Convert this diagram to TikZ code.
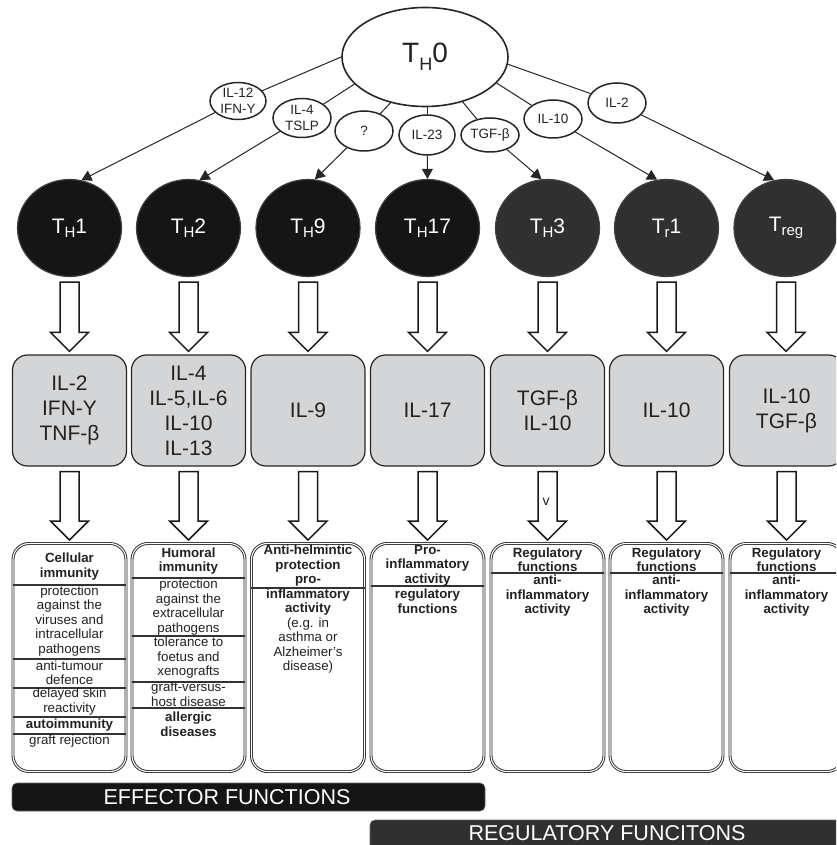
\documentclass[tikz,border=0pt]{standalone}
\usepackage{fontspec}
\setmainfont{Liberation Sans}
\usetikzlibrary{shapes.geometric,arrows.meta,calc}
\definecolor{cdark}{HTML}{151515}
\definecolor{cmid}{HTML}{303030}
\definecolor{cgray}{HTML}{D4D5D7}
\definecolor{ctext}{HTML}{222222}
\newcommand{\cellsub}[1]{\raisebox{-4pt}{\fontsize{15}{15}\selectfont #1}}
\newcommand{\fatarrow}[2]{\draw[fat] let \p1=(#1.south), \p2=(#2.north) in
  ({\x1-9.5pt},{\y1-5pt}) -- ({\x1-9.5pt},{\y2+22pt}) -- ({\x1-19pt},{\y2+22pt}) --
  ({\x1},{\y2+3pt}) -- ({\x1+19pt},{\y2+22pt}) -- ({\x1+9.5pt},{\y2+22pt}) --
  ({\x1+9.5pt},{\y1-5pt}) -- cycle;}
\begin{document}
\begin{tikzpicture}[x=1pt,y=-1pt,
  every node/.style={text=ctext},
  cell/.style={ellipse, minimum width=104pt, minimum height=97pt, inner sep=0pt,
    draw=black!75, line width=1.2pt, text=white, font=\fontsize{21}{21}\selectfont},
  darkcell/.style={cell, fill=cdark},
  midcell/.style={cell, fill=cmid},
  root/.style={ellipse, minimum width=166pt, minimum height=99pt, inner sep=0pt,
    draw=black!85, line width=1.6pt, font=\fontsize{28}{28}\selectfont},
  lab/.style={ellipse, draw=black!85, line width=1.5pt, inner sep=0pt, fill=white,
    minimum width=58pt, minimum height=38pt, align=center, font=\fontsize{13.5}{16}\selectfont},
  gbox/.style={rectangle, rounded corners=15pt, draw=black!85, line width=1.2pt, fill=cgray,
    minimum width=114pt, minimum height=111pt, align=center, font=\fontsize{21}{25}\selectfont},
  wbox/.style={rectangle, rounded corners=16pt, draw=black!85, line width=0.9pt,
    double=white, double distance=1.1pt, minimum width=113pt, minimum height=228pt},
  sect/.style={align=center, inner sep=0pt, font=\fontsize{13.3}{14.5}\selectfont},
  bsect/.style={align=center, inner sep=0pt, font=\fontsize{13.3}{14.5}\selectfont\bfseries},
  divider/.style={draw=black!80, line width=1.3pt},
  fat/.style={draw=black!90, line width=1.5pt, fill=white, line join=miter},
  conn/.style={draw=black!85, line width=1pt},
  tip/.style={conn, -{Triangle[length=10pt,width=11pt]}},
  bar/.style={rectangle, rounded corners=5pt, draw=black!60, line width=0.6pt, inner sep=0pt},
  bartext/.style={text=white, inner sep=0pt, font=\fontsize{21.5}{21.5}\selectfont}
]
\clip (0,0) rectangle (836,845);
\fill[white] (0,0) rectangle (836,845);

% root
\node[root] (th0) at (425,57) {T\raisebox{-8pt}{\fontsize{18}{18}\selectfont H}0};

% cytokine labels
\node[lab, minimum width=56pt, minimum height=37pt] (l1) at (238,101) {IL-12\\IFN-Y};
\node[lab, minimum height=39pt] (l2) at (302,118) {IL-4\\TSLP};
\node[lab, minimum height=40pt] (l3) at (364,131) {?};
\node[lab, minimum width=56pt, minimum height=40pt] (l4) at (427,135) {IL-23};
\node[lab, minimum height=34pt] (l5) at (490,135) {TGF-β};
\node[lab, minimum height=38pt] (l6) at (553,119) {IL-10};
\node[lab, minimum height=40pt] (l7) at (617,103) {IL-2};

% cells
\node[darkcell] (th1)  at (69.5,228)  {T\cellsub{H}1};
\node[darkcell] (th2)  at (188.5,228) {T\cellsub{H}2};
\node[darkcell] (th9)  at (308,228)   {T\cellsub{H}9};
\node[darkcell] (th17) at (427.5,228) {T\cellsub{H}17};
\node[midcell]  (th3)  at (547.5,228) {T\cellsub{H}3};
\node[midcell]  (tr1)  at (666.5,228) {T\cellsub{r}1};
\node[midcell]  (treg) at (786,228)   {T\cellsub{reg}};

% connectors root -> labels -> cells
\draw[conn] (th0.180) -- (l1);
\draw[conn] (th0.201) -- (l2);
\draw[conn] (th0.233) -- (l3);
\draw[conn] (l4 |- th0.south) -- (l4);
\draw[conn] (th0.310) -- (l5);
\draw[conn] (th0.340) -- (l6);
\draw[conn] (th0.355) -- (l7);
\draw[tip] (l1) -- (th1.76);
\draw[tip] (l2) -- (th2.77);
\draw[tip] (l3) -- (th9.82);
\draw[tip] (l4) -- (th17.north);
\draw[tip] (l5) -- (th3.97);
\draw[tip] (l6) -- (tr1.101);
\draw[tip] (l7) -- (treg.104);

% cytokine boxes
\node[gbox] (g1) at (69.5,410.5)  {IL-2\\IFN-Y\\TNF-β};
\node[gbox] (g2) at (188.5,410.5) {IL-4\\IL-5,IL-6\\IL-10\\IL-13};
\node[gbox] (g3) at (308,410.5)   {IL-9};
\node[gbox] (g4) at (427.5,410.5) {IL-17};
\node[gbox] (g5) at (547.5,410.5) {TGF-β\\IL-10};
\node[gbox] (g6) at (666.5,410.5) {IL-10};
\node[gbox] (g7) at (786.5,410.5) {IL-10\\TGF-β};

% function boxes
\node[wbox] (w1) at (69.5,657.5)  {};
\node[wbox] (w2) at (188.5,657.5) {};
\node[wbox] (w3) at (308,657.5)   {};
\node[wbox] (w4) at (427.5,657.5) {};
\node[wbox] (w5) at (547.5,657.5) {};
\node[wbox] (w6) at (666.5,657.5) {};
\node[wbox] (w7) at (786.5,657.5) {};

% fat arrows
\fatarrow{th1}{g1}
\fatarrow{th2}{g2}
\fatarrow{th9}{g3}
\fatarrow{th17}{g4}
\fatarrow{th3}{g5}
\fatarrow{tr1}{g6}
\fatarrow{treg}{g7}
\fatarrow{g1}{w1}
\fatarrow{g2}{w2}
\fatarrow{g3}{w3}
\fatarrow{g4}{w4}
\fatarrow{g5}{w5}
\fatarrow{g6}{w6}
\fatarrow{g7}{w7}
\node[font=\fontsize{14}{14}\selectfont, inner sep=0pt] (vmark) at (546,502) {v};

% box 1
\node[bsect] (s11) at (69.5,566.5) {Cellular\\immunity};
\draw[divider] (w1.west |- 0,585) -- (w1.east |- 0,585);
\node[sect] (s12) at (69.5,621) {protection\\against the\\viruses and\\intracellular\\pathogens};
\draw[divider] (w1.west |- 0,659) -- (w1.east |- 0,659);
\node[sect] (s13) at (69.5,672.5) {anti-tumour\\defence};
\draw[divider] (w1.west |- 0,688) -- (w1.east |- 0,688);
\node[sect] (s14) at (69.5,701.5) {delayed skin\\reactivity};
\draw[divider] (w1.west |- 0,717) -- (w1.east |- 0,717);
\node[bsect] (s15) at (69.5,725) {autoimmunity};
\draw[divider] (w1.west |- 0,734) -- (w1.east |- 0,734);
\node[sect] (s16) at (69.5,741) {graft rejection};

% box 2
\node[bsect] (s21) at (188.5,561) {Humoral\\immunity};
\draw[divider] (w2.west |- 0,578) -- (w2.east |- 0,578);
\node[sect] (s22) at (188.5,607) {protection\\against the\\extracellular\\pathogens};
\draw[divider] (w2.west |- 0,636) -- (w2.east |- 0,636);
\node[sect] (s23) at (188.5,658) {tolerance to\\foetus and\\xenografts};
\draw[divider] (w2.west |- 0,682) -- (w2.east |- 0,682);
\node[sect] (s24) at (188.5,694) {graft-versus-\\host disease};
\draw[divider] (w2.west |- 0,708) -- (w2.east |- 0,708);
\node[bsect] (s25) at (188.5,724) {allergic\\diseases};

% box 3
\node[bsect] (s31) at (308,580.5) {Anti-helmintic\\protection\\pro-\\inflammatory\\activity};
\draw[divider] (w3.west |- 0,588) -- (w3.east |- 0,588);
\node[sect] (s32) at (308,645.5) {(e.g. in\\asthma or\\Alzheimer’s\\disease)};

% box 4
\node[bsect] (s41) at (427.5,565.5) {Pro-\\inflammatory\\activity};
\draw[divider] (w4.west |- 0,586) -- (w4.east |- 0,586);
\node[bsect] (s42) at (427.5,601) {regulatory\\functions};

% boxes 5-7
\node[bsect] (s51) at (547.5,559.5) {Regulatory\\functions};
\draw[divider] (w5.west |- 0,573) -- (w5.east |- 0,573);
\node[bsect] (s52) at (547.5,596) {anti-\\inflammatory\\activity};
\node[bsect] (s61) at (666.5,559.5) {Regulatory\\functions};
\draw[divider] (w6.west |- 0,573) -- (w6.east |- 0,573);
\node[bsect] (s62) at (666.5,596) {anti-\\inflammatory\\activity};
\node[bsect] (s71) at (786.5,559.5) {Regulatory\\functions};
\draw[divider] (w7.west |- 0,573) -- (w7.east |- 0,573);
\node[bsect] (s72) at (786.5,596) {anti-\\inflammatory\\activity};

% bottom bars
\node[bar, fill=cdark, minimum width=473pt, minimum height=28pt] (eff) at (248.5,797) {};
\node[bartext] (efft) at (227,797) {EFFECTOR FUNCTIONS};
\node[bar, fill=cmid, minimum width=480pt, minimum height=40pt] (reg) at (610,840) {};
\node[bartext] (regt) at (607,833) {REGULATORY FUNCITONS};
\end{tikzpicture}
\end{document}
